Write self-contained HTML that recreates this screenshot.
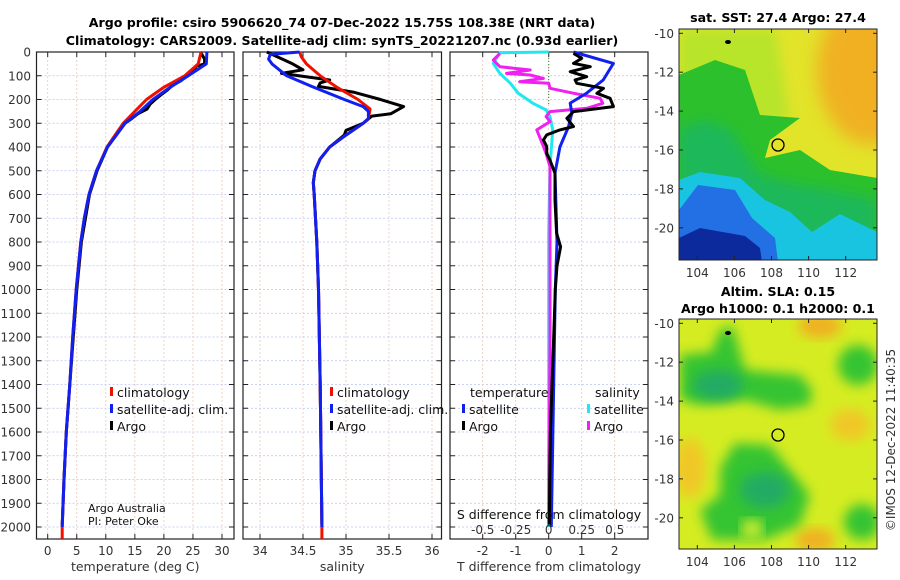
<!DOCTYPE html>
<html><head><meta charset="utf-8"><style>
html,body{margin:0;padding:0;background:#fff;}
svg{display:block;font-family:"DejaVu Sans","Liberation Sans",sans-serif;}
.tl{font-size:12px;fill:#333;}
.ti{font-size:12.6px;font-weight:bold;fill:#000;}
.lg{font-size:12.5px;fill:#111;}
</style></head><body>
<svg id="fig" width="900" height="580" viewBox="0 0 900 580">
<defs>
<filter id="blur" x="-20%" y="-20%" width="140%" height="140%"><feGaussianBlur stdDeviation="6"/></filter>
<filter id="blur2" x="-20%" y="-20%" width="140%" height="140%"><feGaussianBlur stdDeviation="9"/></filter>
<clipPath id="cm1"><rect x="679" y="29" width="198" height="231"/></clipPath>
<clipPath id="cm2"><rect x="679" y="319" width="198" height="230"/></clipPath>
</defs>
<text class="ti" x="342" y="27" text-anchor="middle">Argo profile: csiro 5906620_74 07-Dec-2022 15.75S 108.38E (NRT data)</text>
<text class="ti" x="342" y="45" text-anchor="middle">Climatology: CARS2009. Satellite-adj clim: synTS_20221207.nc (0.93d earlier)</text>
<g id="panels"></g>

<!-- SST map -->
<g>
<g clip-path="url(#cm1)">
<rect x="679" y="29" width="198" height="231" fill="#e2e42a"/>
<ellipse cx="872" cy="70" rx="55" ry="75" fill="#f0b024" filter="url(#blur2)"/>
<polygon points="679,29 775,29 790,120 679,130" fill="#b8e42a" filter="url(#blur)"/>
<polygon points="679,75 715,60 745,70 760,115 800,118 770,140 765,158 800,150 830,170 877,178 877,262 679,262" fill="#2cc02c"/>
<polygon points="679,130 705,120 730,130 760,175 800,185 830,190 877,200 877,262 679,262" fill="#1cb85a" filter="url(#blur)"/>
<polygon points="679,180 700,172 740,178 765,200 790,212 812,232 840,214 877,232 877,262 679,262" fill="#18c4e0"/>
<polygon points="679,210 698,185 735,190 752,218 775,238 778,262 679,262" fill="#2270e4"/>
<polygon points="679,238 700,228 745,236 760,248 762,262 679,262" fill="#0c2a9c"/>
</g>
<rect x="679" y="29" width="198" height="231" fill="none" stroke="#222" stroke-width="1"/>
<ellipse cx="728" cy="42" rx="3" ry="2" fill="#000"/>
<circle cx="778" cy="145" r="6" fill="none" stroke="#000" stroke-width="1.3"/>
<text class="ti" x="778" y="22" text-anchor="middle">sat. SST: 27.4 Argo: 27.4</text>
</g>

<!-- SLA map -->
<g>
<g clip-path="url(#cm2)">
<rect x="679" y="319" width="198" height="230" fill="#d6ec22"/>
<ellipse cx="820" cy="326" rx="22" ry="12" fill="#f0b020" filter="url(#blur)"/>
<ellipse cx="690" cy="468" rx="16" ry="30" fill="#f0c828" filter="url(#blur)"/>
<ellipse cx="850" cy="425" rx="20" ry="16" fill="#f0c828" filter="url(#blur)"/>
<ellipse cx="815" cy="540" rx="20" ry="12" fill="#f0b020" filter="url(#blur)"/>
<g fill="#34c432" filter="url(#blur)">
<polygon points="720,330 732,325 738,345 745,370 800,375 812,390 810,405 780,410 745,400 700,405 680,400 680,355 712,352"/>
<ellipse cx="858" cy="365" rx="20" ry="20"/>
<polygon points="720,468 735,443 770,445 790,470 810,495 800,525 765,540 740,540 712,540 700,510 720,495"/>
<ellipse cx="862" cy="522" rx="18" ry="18"/>
</g>
<g fill="#20ac64" filter="url(#blur)">
<ellipse cx="718" cy="385" rx="25" ry="15"/>
<ellipse cx="765" cy="490" rx="25" ry="18"/>
</g>
<rect x="742" y="520" width="20" height="18" fill="#c8ec30" filter="url(#blur)"/>
</g>
<rect x="679" y="319" width="198" height="230" fill="none" stroke="#222" stroke-width="1"/>
<ellipse cx="728" cy="333" rx="3" ry="2" fill="#000"/>
<circle cx="778" cy="435" r="6" fill="none" stroke="#000" stroke-width="1.3"/>
<text class="ti" x="778" y="296" text-anchor="middle">Altim. SLA: 0.15</text>
<text class="ti" x="778" y="313" text-anchor="middle">Argo h1000: 0.1 h2000: 0.1</text>
</g>
<g id="mapaxes"></g>
<text class="tl" transform="translate(895,440) rotate(-90)" text-anchor="middle">©IMOS 12-Dec-2022 11:40:35</text>
<text x="88" y="512" style="font-size:11px" fill="#111">Argo Australia</text>
<text x="88" y="525" style="font-size:11px" fill="#111">PI: Peter Oke</text>
</svg>
<script>
// ---- data ----
const depthTClim = [0,50,100,150,200,250,300,350,400,500,600,700,800,1000,1200,1400,1600,1800,2000,2050];
const tClim = [26.4,25.9,23.6,19.9,17.0,15.0,13.0,11.6,10.2,8.4,7.1,6.3,5.7,4.9,4.3,3.8,3.2,2.8,2.5,2.5];
const depthTSat = [0,50,100,150,200,250,300,350,400,500,600,700,800,1000,1200,1400,1600,1800,2000];
const tSat = [27.4,27.3,24.2,21.0,18.1,15.9,13.3,11.8,10.3,8.4,7.1,6.3,5.7,4.9,4.3,3.8,3.2,2.8,2.5];
const depthTArgo = [0,30,50,60,80,100,120,140,160,180,200,220,240,260,280,300,350,400,500,600,800,1000,1200,1400,1600,1800,1990];
const tArgo = [26.3,27.0,27.0,25.5,25.2,24.0,23.0,21.5,20.6,19.5,18.5,17.6,17.1,15.5,14.5,13.3,11.8,10.3,8.5,7.2,5.8,5.0,4.4,3.8,3.2,2.8,2.5];

const depthSClim = [0,20,50,100,150,200,240,280,300,350,400,450,500,550,600,800,1000,1400,2000,2050];
const sClim = [34.46,34.48,34.54,34.70,34.90,35.14,35.28,35.26,35.20,35.00,34.81,34.70,34.64,34.62,34.63,34.66,34.68,34.70,34.72,34.72];
const depthSSat = [0,10,30,50,100,145,200,230,250,280,300,350,400,450,500,550,600,800,1000,1400,2000];
const sSat = [34.46,34.12,34.10,34.14,34.31,34.60,34.98,35.20,35.26,35.26,35.20,35.00,34.81,34.70,34.64,34.62,34.63,34.66,34.68,34.70,34.72];
const depthSArgo = [0,50,75,90,118,130,145,170,200,230,260,270,300,330,350,400,450,500,550,600,800,1000,1400,1990];
const sArgo = [34.08,34.38,34.50,34.25,34.81,34.70,34.68,35.10,35.40,35.67,35.52,35.30,35.20,35.00,34.98,34.81,34.70,34.64,34.62,34.63,34.66,34.68,34.70,34.72];

const depthDTSat = [0,48,118,173,215,257,315,400,510,650,800,1000,1400,2000];
const dTSat = [0.75,1.96,1.65,1.15,0.65,0.70,0.60,0.34,0.19,0.22,0.25,0.2,0.15,0.08];
const depthDTArgo = [6,27,48,62,83,104,118,132,153,174,195,230,251,279,314,328,349,370,398,427,455,511,623,763,820,900,1000,1200,1400,1600,1800,1990];
const dTArgo = [0.75,1.0,0.75,1.26,0.65,1.15,0.8,0.85,1.66,1.46,1.86,1.96,0.75,0.55,0.75,0.34,-0.06,-0.16,-0.06,-0.06,0.04,0.19,0.19,0.24,0.36,0.25,0.2,0.15,0.1,0.05,0.03,0.02];
const depthDSSat = [0,3,48,90,132,174,216,244,272,328,483,763,2000];
const dSSat = [0,-0.37,-0.42,-0.37,-0.29,-0.23,-0.12,-0.02,0.01,0.03,0.01,0,0];
const depthDSArgo = [6,34,62,76,90,97,111,125,132,153,174,195,216,237,251,272,293,328,356,398,427,483,581,763,1200,1990];
const dSArgo = [-0.37,-0.42,-0.37,-0.14,-0.32,-0.14,-0.04,-0.22,0,0.01,0.19,0.39,0.41,0.29,0.01,-0.02,0.01,-0.09,-0.07,-0.04,-0.02,0.01,0.01,0.01,0.01,0.0];

const depthTicks = [0,100,200,300,400,500,600,700,800,900,1000,1100,1200,1300,1400,1500,1600,1700,1800,1900,2000];
const tTicks = [0,5,10,15,20,25,30];
const sTicks = [34,34.5,35,35.5,36];
const sTickLabels = ['34','34.5','35','35.5','36'];
const dTTicks = [-2,-1,0,1,2];
const dSTicks = [-0.5,-0.25,0,0.25,0.5];
const dSTickLabels = ['-0.5','-0.25','0','0.25','0.5'];
const latTicks = [-10,-12,-14,-16,-18,-20];
const lonTicks = [104,106,108,110,112];

// ---- helpers ----
const NS='http://www.w3.org/2000/svg';
const root=document.getElementById('panels');
function mk(tag,attrs,parent){const e=document.createElementNS(NS,tag);for(const k in attrs)e.setAttribute(k,attrs[k]);(parent||root).appendChild(e);return e;}
const Y0=52, Y1=539;
const yD = d => Y0 + d*0.2375;
const xT = v => 47.7 + v*5.81;
const xS = v => 260 + (v-34)*86;
const xDT = v => 548.7 + v*33;
const xDS = v => 548.7 + v*132;

function line(xs, ds, xf, color, name, w){
  const pts = xs.map((v,i)=>xf(v).toFixed(1)+','+yD(ds[i]).toFixed(1)).join(' ');
  const p = mk('polyline',{points:pts,fill:'none',stroke:color,'stroke-width':w||3,'stroke-linejoin':'round'});
  
  
}

function panel(L,R,xTicksV,xf,labels,xTitle,name,showY){
  const g=mk('g',{});
  
  
  depthTicks.forEach(d=>{
    mk('line',{x1:L,x2:R,y1:yD(d),y2:yD(d),stroke:'#b8c4ee','stroke-width':0.8,'stroke-dasharray':'2,2'},g);
    mk('line',{x1:L,x2:L+5,y1:yD(d),y2:yD(d),stroke:'#222'},g);
    mk('line',{x1:R-5,x2:R,y1:yD(d),y2:yD(d),stroke:'#222'},g);
    if(showY){const t=mk('text',{x:31,y:yD(d)+4.5,'text-anchor':'end',class:'tl'},g);t.textContent=d;
      
      }
  });
  xTicksV.forEach((v,i)=>{
    const x=xf(v);
    mk('line',{x1:x,x2:x,y1:Y0,y2:Y1,stroke:'#e8c8b8','stroke-width':0.8,'stroke-dasharray':'2,2'},g);
    mk('line',{x1:x,x2:x,y1:Y1-5,y2:Y1,stroke:'#222'},g);
    mk('line',{x1:x,x2:x,y1:Y0,y2:Y0+5,stroke:'#222'},g);
    const t=mk('text',{x:x,y:555,'text-anchor':'middle',class:'tl'},g);t.textContent=labels[i];
    
    
  });
  mk('rect',{x:L,y:Y0,width:R-L,height:Y1-Y0,fill:'none',stroke:'#222','stroke-width':1.2},g);
  const tt=mk('text',{x:(L+R)/2,y:571,'text-anchor':'middle',class:'tl',style:'font-size:12.5px'},g);tt.textContent=xTitle;
  
  
}

panel(36.5,234,tTicks,xT,tTicks.map(String),'temperature (deg C)','temperature-panel',true);
panel(243,441.5,sTicks,xS,sTickLabels,'salinity','salinity-panel',false);
panel(450,648,dTTicks,xDT,dTTicks.map(String),'T difference from climatology','difference-panel',false);

const zl=mk('line',{x1:xDT(0),x2:xDT(0),y1:Y0,y2:yD(220),stroke:'#2a7a2a','stroke-width':1,'stroke-dasharray':'1,2'});



line(tArgo, depthTArgo, xT, '#000', 'argo-temperature-line');
line(tClim, depthTClim, xT, '#f01000', 'climatology-temperature-line');
line(tSat, depthTSat, xT, '#1020f0', 'satellite-temperature-line');
line(sArgo, depthSArgo, xS, '#000', 'argo-salinity-line');
line(sClim, depthSClim, xS, '#f01000', 'climatology-salinity-line');
line(sSat, depthSSat, xS, '#1020f0', 'satellite-salinity-line');
line(dSSat, depthDSSat, xDS, '#20e8f0', 'satellite-salinity-diff-line');
line(dSArgo, depthDSArgo, xDS, '#f020f0', 'argo-salinity-diff-line');
line(dTSat, depthDTSat, xDT, '#1020f0', 'satellite-temperature-diff-line');
line(dTArgo, depthDTArgo, xDT, '#000', 'argo-temperature-diff-line');

const st=mk('text',{x:549,y:519,'text-anchor':'middle',class:'lg'});st.textContent='S difference from climatology';


dSTicks.forEach((v,i)=>{const t=mk('text',{x:xDS(v),y:534,'text-anchor':'middle',class:'tl'});t.textContent=dSTickLabels[i];
  
  });

function legend(x,y,color,label,name){
  const g=mk('g',{});
  
  
  mk('rect',{x:x,y:y-10,width:3,height:9,fill:color},g);
  const t=mk('text',{x:x+7,y:y,class:'lg'},g);t.textContent=label;
}
legend(110,397,'#f01000','climatology','legend-climatology-t');
legend(110,414,'#1020f0','satellite-adj. clim.','legend-satellite-t');
legend(110,431,'#000','Argo','legend-argo-t');
legend(330,397,'#f01000','climatology','legend-climatology-s');
legend(330,414,'#1020f0','satellite-adj. clim.','legend-satellite-s');
legend(330,431,'#000','Argo','legend-argo-s');
const lt=mk('text',{x:470,y:397,class:'lg'});lt.textContent='temperature';


const ls=mk('text',{x:595,y:397,class:'lg'});ls.textContent='salinity';


legend(462,414,'#1020f0','satellite','legend-t-satellite');
legend(462,431,'#000','Argo','legend-t-argo');
legend(587,414,'#20e8f0','satellite','legend-s-satellite');
legend(587,431,'#f020f0','Argo','legend-s-argo');

const ma=document.getElementById('mapaxes');
function mapAxes(top,bottom,latAt,name){
  const g=mk('g',{},ma);
  
  
  latTicks.forEach(v=>{const y=latAt(v);
    mk('line',{x1:679,x2:683,y1:y,y2:y,stroke:'#222'},g);
    mk('line',{x1:873,x2:877,y1:y,y2:y,stroke:'#222'},g);
    const t=mk('text',{x:674,y:y+4.5,'text-anchor':'end',class:'tl'},g);t.textContent=v;
    
    });
  lonTicks.forEach(v=>{const x=697.3+(v-104)*18.55;
    mk('line',{x1:x,x2:x,y1:bottom-4,y2:bottom,stroke:'#222'},g);
    mk('line',{x1:x,x2:x,y1:top,y2:top+4,stroke:'#222'},g);
    const t=mk('text',{x:x,y:bottom+17,'text-anchor':'middle',class:'tl'},g);t.textContent=v;
    
    });
}
mapAxes(29,260,v=>33.3+(-10-v)*19.45,'sst-map-axes');
mapAxes(319,549,v=>323.3+(-10-v)*19.45,'sla-map-axes');
</script>
</body></html>
